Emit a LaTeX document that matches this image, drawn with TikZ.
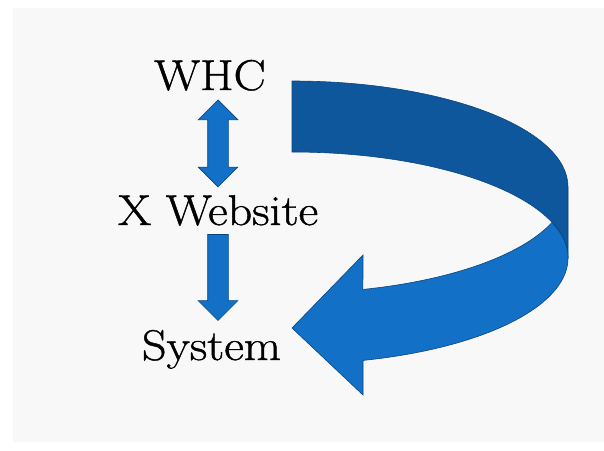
\documentclass[tikz,border=0pt]{standalone}
\usepackage{fontspec}
\setmainfont{Latin Modern Roman}[FakeStretch=1.12, FakeBold=1]
\usepackage{tikz}
\usetikzlibrary{positioning}
\usetikzlibrary{shapes.arrows}
\usetikzlibrary{calc}
\usepackage{xcolor}
\definecolor{backBlue}{RGB}{14,87,156}
\definecolor{frontBlue}{RGB}{18,112,198}
\definecolor{edgeBlue}{RGB}{10,68,128}
\definecolor{pageGray}{RGB}{248,248,248}

\begin{document}
\begin{tikzpicture}[
    x=1pt, y=-1pt,
    term/.style={inner sep=0pt, anchor=base, font=\fontsize{43}{50}\selectfont},
    twoway/.style={double arrow, draw=edgeBlue, fill=frontBlue, line width=0.6pt, inner xsep=0pt, inner ysep=10pt,
        double arrow head extend=9.5pt, double arrow tip angle=90, minimum height=87pt},
    oneway/.style={single arrow, draw=edgeBlue, fill=frontBlue, line width=0.6pt, inner xsep=0pt, inner ysep=10pt,
        single arrow head extend=9.5pt, single arrow tip angle=90, minimum height=86pt},
    backside/.style={fill=backBlue, draw=edgeBlue, line width=0.6pt},
    frontside/.style={fill=frontBlue, draw=edgeBlue, line width=0.6pt}
]
    \useasboundingbox (0,0) rectangle (604,450);
    \fill[pageGray] (13,8) rectangle (604,442);

    % Terms
    \node[term] (whc) at (210,90) {WHC};
    \node[term] (web) at (218,225) {X Website};
    \node[term] (sys) at (211.5,360) {System};

    % WHC <-> X Website
    \coordinate (t1) at ($(web.north |- whc.south)+(0,10)$);
    \coordinate (t2) at ($(web.north)+(0,-9)$);
    \path (t1) -- node[sloped, allow upside down, twoway] (link1) {} (t2);

    % X Website -> System
    \coordinate (t3) at ($(web.south)+(0,4)$);
    \coordinate (t4) at ($(web.south |- sys.north)+(0,-15)$);
    \path (t3) -- node[sloped, allow upside down, oneway] (link2) {} (t4);

    % Ribbon, back half
    \filldraw[backside] (292,81) arc[start angle=-90, end angle=0, x radius=276, y radius=106]
        -- (568,258) arc[start angle=0, end angle=-90, x radius=276, y radius=106] -- cycle;

    % Ribbon, front half with head
    \filldraw[frontside] (552,222.5) arc[start angle=19.57, end angle=75.1, x radius=276, y radius=106]
        -- (363,255) -- (292,328) -- (363,395) -- (363,360.4)
        arc[start angle=75.1, end angle=-19.57, x radius=276, y radius=106] -- cycle;
\end{tikzpicture}
\end{document}
